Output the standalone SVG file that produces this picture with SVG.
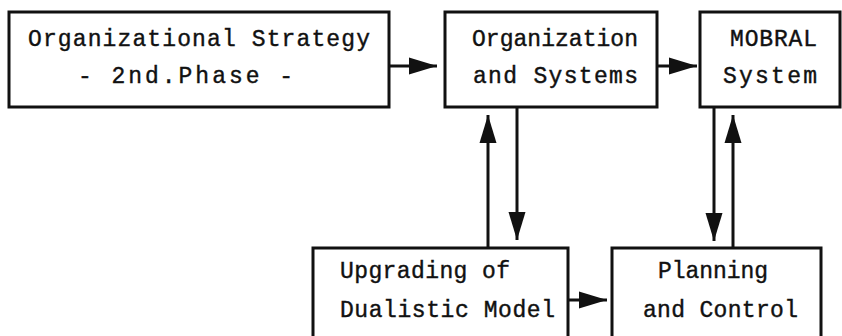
<svg xmlns="http://www.w3.org/2000/svg" width="842" height="336" viewBox="0 0 842 336">
<defs>
<style>
.box{fill:#fff;stroke:#111;stroke-width:3}
.t{font-family:"Liberation Mono","Courier New",monospace;font-size:23px;fill:#111;stroke:#111;stroke-width:0.4}
.c{stroke:#111;stroke-width:3;fill:none;marker-end:url(#ah)}
</style>
<marker id="ah" markerUnits="userSpaceOnUse" markerWidth="30" markerHeight="18" refX="28" refY="9" orient="auto">
<path d="M0,0.5 L28,9 L0,17.5 Z" fill="#111"/>
</marker>
</defs>
<rect width="842" height="336" fill="#fff"/>
<g id="n1">
<rect class="box" x="9" y="12" width="380" height="95"/>
<text class="t" x="28" y="46" textLength="342" lengthAdjust="spacing">Organizational Strategy</text>
<text class="t" x="78" y="83" textLength="215" lengthAdjust="spacing">- 2nd.Phase -</text>
</g>
<g id="n2">
<rect class="box" x="445" y="12" width="212" height="95"/>
<text class="t" x="472" y="46" textLength="166" lengthAdjust="spacing">Organization</text>
<text class="t" x="473" y="83" textLength="165" lengthAdjust="spacing">and Systems</text>
</g>
<g id="n3">
<rect class="box" x="700" y="12" width="140" height="95"/>
<text class="t" x="730" y="46" textLength="87" lengthAdjust="spacing">MOBRAL</text>
<text class="t" x="723" y="83" textLength="94" lengthAdjust="spacing">System</text>
</g>
<g id="n4">
<rect class="box" x="313" y="248" width="255" height="92"/>
<text class="t" x="340" y="278" textLength="170" lengthAdjust="spacing">Upgrading of</text>
<text class="t" x="340" y="317" textLength="215" lengthAdjust="spacing">Dualistic Model</text>
</g>
<g id="n5">
<rect class="box" x="612" y="248" width="209" height="92"/>
<text class="t" x="658" y="278" textLength="110" lengthAdjust="spacing">Planning</text>
<text class="t" x="643" y="317" textLength="155" lengthAdjust="spacing">and Control</text>
</g>
<g id="connectors">
<line class="c" x1="389" y1="66" x2="437" y2="66"/>
<line class="c" x1="657" y1="66" x2="697" y2="66"/>
<line class="c" x1="488" y1="248" x2="488" y2="115"/>
<line class="c" x1="517" y1="107" x2="517" y2="240"/>
<line class="c" x1="714" y1="107" x2="714" y2="241"/>
<line class="c" x1="733" y1="248" x2="733" y2="115"/>
<line class="c" x1="568" y1="300" x2="607" y2="300"/>
</g>
</svg>
